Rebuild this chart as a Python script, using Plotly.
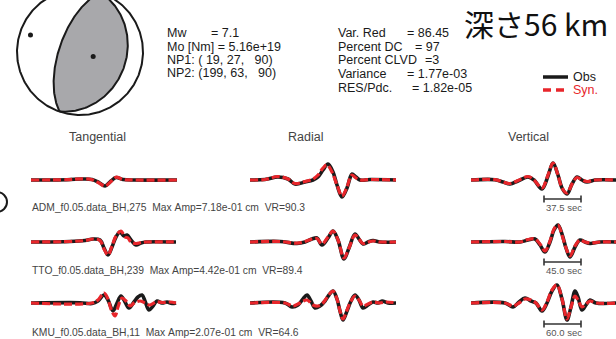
import numpy as np
import plotly.graph_objects as go

W, H = 616, 339

# ---------------- data ----------------
components = ["Tangential", "Radial", "Vertical"]
stations = ["ADM", "TTO", "KMU"]
station_labels = [
    "ADM_f0.05.data_BH,275  Max Amp=7.18e-01 cm  VR=90.3",
    "TTO_f0.05.data_BH,239  Max Amp=4.42e-01 cm  VR=89.4",
    "KMU_f0.05.data_BH,11  Max Amp=2.07e-01 cm  VR=64.6",
]
scale_labels = ["37.5 sec", "45.0 sec", "60.0 sec"]

np1 = (19, 27, 90)      # strike, dip, rake
np2 = (199, 63, 90)
p_axis = (289, 18)      # trend, plunge
t_axis = (109, 72)

mw_label, mw_value = "Mw", "= 7.1"
mt_lines = ["Mo [Nm] = 5.16e+19", "NP1: ( 19, 27,   90)", "NP2: (199, 63,   90)"]
stat_labels = ["Var. Red", "Percent DC", "Percent CLVD", "Variance", "RES/Pdc."]
stat_values = ["= 86.45", "= 97", "=3", "= 1.77e-03", "= 1.82e-05"]
depth_title = "深さ56 km"
legend_names = ["Obs", "Syn."]

# waveforms: (sample, amplitude) pairs, amplitude positive up
ADM_T_obs = [(0,0),(36,0.3),(52,1),(61,0.5),(68,-2.5),(74,-6),(80,-1),(85,2.5),(92,0.5),(104,0),(146,0)]
ADM_T_syn = [(0,0),(36,0.3),(52,1.2),(61,0.3),(68,-3),(74,-6),(80,-1.5),(85,2.8),(92,0.5),(104,0),(146,0)]
ADM_R_obs = [(0,0),(15,0.5),(28,3),(38,1),(45,-4),(55,-2),(63,0),(68,3),(73,10),(78,16),(83,8),(87,-5),(92,-17),(97,-8),(100,2),(102,6),(106,3),(110,0),(120,0.5),(147,0)]
ADM_R_syn = [(0,0),(15,0.5),(28,3.5),(38,1),(45,-3.5),(55,-1.5),(63,1),(68,5),(73,12),(77,15),(82,8),(87,-5),(92,-16),(97,-7),(100,2),(102,5),(106,2),(110,0),(120,0.5),(147,0)]
ADM_Z_obs = [(0,0),(24,0.3),(32,-2),(39,-4),(47,-1),(57,3),(63,0),(71,-9),(77,4),(82,17),(87,5),(91,-8),(96,-14),(101,-4),(106,3),(111,0),(116,-2),(124,0),(134,0.3),(146,0)]
ADM_Z_syn = [(0,0),(24,0.3),(32,-2),(39,-3.5),(47,-0.5),(57,3.5),(63,0),(71,-8),(77,5),(82,17),(87,5),(91,-8),(96,-13),(101,-4),(106,2.5),(111,0),(116,-1.5),(124,0),(146,0)]

TTO_T_obs = [(0,0),(39,0.5),(54,1.5),(62,3),(69,2),(73,-6),(77,-13),(81,-5),(85,5),(89,10),(93,6),(96,7),(100,2),(105,-3),(110,-1),(115,0),(145,0)]
TTO_T_syn = [(0,0),(39,0.5),(54,1.5),(62,3),(69,1.5),(73,-7),(77,-13),(81,-4),(85,6),(90,11),(94,5),(97,4),(100,0),(105,-1.5),(110,-0.5),(115,0),(145,0)]
TTO_R_obs = [(0,0),(30,0.5),(47,-1.5),(55,0),(62,3),(67,4),(72,-3),(78,4),(83,11),(88,2),(94,-17),(99,-6),(105,8),(109,3),(113,-2),(118,0),(123,1.5),(130,0),(147,0)]
TTO_R_syn = [(0,0),(30,0.5),(47,-1.2),(55,0.5),(62,3),(67,3.5),(72,-2),(78,5),(83,11),(88,2),(94,-16),(99,-6),(105,7),(109,3),(113,-1.5),(118,0),(123,1),(130,0),(147,0)]
TTO_Z_obs = [(0,0),(34,0.5),(49,0),(57,2),(64,3),(69,-3),(74,-10),(79,0),(83,12),(87,17),(91,8),(95,-6),(99,-15),(104,-5),(109,2),(114,0),(119,-1.5),(129,0),(146,0)]
TTO_Z_syn = [(0,0),(34,0.5),(49,0),(57,2.5),(64,3),(69,-2),(74,-9),(79,1),(83,13),(87,17),(91,7),(95,-6),(99,-14),(104,-4),(109,2),(114,0),(119,-1),(129,0),(146,0)]

KMU_T_obs = [(0,0),(49,0.3),(61,-0.5),(67,2),(73,8),(77,3),(82,-8),(86,0),(90,7),(94,1),(98,-5),(103,1),(107,6),(111,8),(114,2),(118,-7),(122,-3),(126,2),(131,0),(136,1),(141,-0.5),(145,0)]
KMU_T_syn = [(0,0),(61,0),(67,3),(73,10),(77,4),(80,-6),(84,-13),(87,-4),(91,5),(95,2),(99,-3),(103,0),(109,2),(114,0),(119,-2),(125,1),(132,0.5),(139,1),(145,0)]
KMU_R_obs = [(0,0),(35,0),(42,-4),(48,-2),(53,4),(57,8),(61,2),(65,-5),(70,-3),(75,2),(79,8),(83,12),(87,4),(90,-8),(93,-17),(97,-8),(101,2),(105,8),(109,3),(113,-5),(118,-2),(123,1),(128,0),(132,2),(138,0),(147,0)]
KMU_R_syn = [(0,0),(35,0),(43,-3),(50,0),(57,3),(63,-2),(68,-3),(73,0),(78,7),(83,12),(87,4),(90,-8),(93,-16),(97,-7),(101,2),(105,7),(109,3),(113,-3),(118,-1),(123,1),(130,0),(136,1),(147,0)]
KMU_Z_obs = [(0,0),(34,0),(42,-4),(48,1),(54,5),(60,2),(65,0),(71,-8),(76,0),(81,12),(86,18),(91,4),(96,-17),(100,-4),(104,12),(107,6),(111,-7),(115,-2),(119,3),(125,0),(146,0)]
KMU_Z_syn = [(0,0),(34,0),(42,-3),(48,0),(54,4),(60,3),(65,0),(71,-7),(76,1),(81,13),(86,18),(91,4),(96,-16),(100,-4),(104,7),(107,3),(111,-4),(115,-1),(119,2),(125,0),(146,0)]

waves = {
    ("ADM", 0): (ADM_T_obs, ADM_T_syn), ("ADM", 1): (ADM_R_obs, ADM_R_syn), ("ADM", 2): (ADM_Z_obs, ADM_Z_syn),
    ("TTO", 0): (TTO_T_obs, TTO_T_syn), ("TTO", 1): (TTO_R_obs, TTO_R_syn), ("TTO", 2): (TTO_Z_obs, TTO_Z_syn),
    ("KMU", 0): (KMU_T_obs, KMU_T_syn), ("KMU", 1): (KMU_R_obs, KMU_R_syn), ("KMU", 2): (KMU_Z_obs, KMU_Z_syn),
}

# ---------------- layout constants (pixels) ----------------
col_x0 = [31, 250, 471]
win = 146
row_base = [180, 242, 303]
label_y = [207, 270, 332]
header_y = 137
header_x = [97, 305, 528]
cx, cy, R = 80, 52, 63

BLACK = "#1a1a1a"
RED = "#e8262b"
GREY_TXT = "#444444"
FONT = "Liberation Sans"

fig = go.Figure()

# ---------------- beachball ----------------
def bb_point(trend, plunge):
    trend = np.radians(np.asarray(trend, dtype=float))
    plunge = np.radians(np.asarray(plunge, dtype=float))
    r = R * np.sqrt(2) * np.sin((np.pi / 2 - plunge) / 2)
    return cx + r * np.sin(trend), cy - r * np.cos(trend)

def plane_arc(strike, dip, n=181):
    t = np.linspace(0, np.pi, n)
    phi, dl = np.radians(strike), np.radians(dip)
    s = np.array([np.cos(phi), np.sin(phi), 0.0])
    d = np.array([np.cos(dl) * np.cos(phi + np.pi / 2), np.cos(dl) * np.sin(phi + np.pi / 2), np.sin(dl)])
    v = np.outer(np.cos(t), s) + np.outer(np.sin(t), d)
    plunge = np.degrees(np.arcsin(np.clip(v[:, 2], -1, 1)))
    trend = np.degrees(np.arctan2(v[:, 1], v[:, 0]))
    return bb_point(trend, plunge)

a1x, a1y = plane_arc(np1[0], np1[1])
a2x, a2y = plane_arc(np2[0], np2[1])
fig.add_trace(go.Scatter(x=np.concatenate([a1x, a2x]), y=np.concatenate([a1y, a2y]),
                         fill="toself", fillcolor="#a8a8ab", line=dict(width=0), mode="lines",
                         xaxis="x", yaxis="y", hoverinfo="skip", showlegend=False))
for ax_, ay_ in [(a1x, a1y), (a2x, a2y)]:
    fig.add_trace(go.Scatter(x=ax_, y=ay_, mode="lines", line=dict(color=BLACK, width=2),
                             xaxis="x", yaxis="y", hoverinfo="skip", showlegend=False))
th = np.linspace(0, 360, 361)
ccx, ccy = bb_point(th, np.zeros_like(th))
fig.add_trace(go.Scatter(x=ccx, y=ccy, mode="lines", line=dict(color=BLACK, width=2),
                         xaxis="x", yaxis="y", hoverinfo="skip", showlegend=False))
px_, py_ = bb_point([p_axis[0], t_axis[0]], [p_axis[1], t_axis[1]])
fig.add_trace(go.Scatter(x=px_, y=py_, mode="markers", marker=dict(color=BLACK, size=5),
                         xaxis="x", yaxis="y", hoverinfo="skip", showlegend=False))

shapes = []
# partial arc at the left edge
shapes.append(dict(type="circle", xref="x", yref="y", x0=-13, x1=7, y0=192, y1=212,
                   line=dict(color=BLACK, width=2)))

# ---------------- waveforms ----------------
layout_axes = {}
k = 2
for r, st in enumerate(stations):
    for c in range(3):
        obs, syn = waves[(st, c)]
        x0 = col_x0[c]
        x1 = min(x0 + win, W)
        b = row_base[r]
        layout_axes[f"xaxis{k}"] = dict(domain=[x0 / W, x1 / W], range=[0, x1 - x0], visible=False,
                                         fixedrange=True, anchor=f"y{k}")
        layout_axes[f"yaxis{k}"] = dict(domain=[(H - b - 30) / H, (H - b + 30) / H], range=[-30, 30],
                                         visible=False, fixedrange=True, anchor=f"x{k}")
        fig.add_trace(go.Scatter(x=[p[0] for p in obs], y=[p[1] for p in obs], mode="lines",
                                 line=dict(color=BLACK, width=3.6, shape="spline", smoothing=1.0),
                                 xaxis=f"x{k}", yaxis=f"y{k}", hoverinfo="skip", showlegend=False))
        fig.add_trace(go.Scatter(x=[p[0] for p in syn], y=[p[1] for p in syn], mode="lines",
                                 line=dict(color=RED, width=3.2, dash="8px,3px", shape="spline", smoothing=1.0),
                                 xaxis=f"x{k}", yaxis=f"y{k}", hoverinfo="skip", showlegend=False))
        k += 1

# ---------------- texts ----------------
ann = []
def txt(x, y, s, size, color, anchor="left", family=FONT):
    ann.append(dict(x=x, y=y, xref="x", yref="y", text=s.replace(" ", "\u00a0"), showarrow=False,
                    xanchor=anchor, yanchor="middle", font=dict(size=size, color=color, family=family)))

left_y = [33, 46.5, 60, 73]
txt(165, left_y[0], mw_label, 12.5, BLACK)
txt(209, left_y[0], mw_value, 12.5, BLACK)
for i, s in enumerate(mt_lines):
    txt(165, left_y[i + 1], s, 12.5, BLACK)

stat_y = [33, 46.5, 60, 74, 87.5]
stat_vx = [405, 413, 423, 405, 410]
for i in range(5):
    txt(336, stat_y[i], stat_labels[i], 12.5, BLACK)
    txt(stat_vx[i], stat_y[i], stat_values[i], 12.5, BLACK)

txt(462, 23, depth_title, 30, "#111111", family="Noto Sans CJK JP")

# legend
shapes.append(dict(type="line", xref="x", yref="y", x0=543, x1=568, y0=77, y1=77,
                   line=dict(color=BLACK, width=3.5)))
shapes.append(dict(type="line", xref="x", yref="y", x0=543, x1=564, y0=90, y1=90,
                   line=dict(color=RED, width=3.5, dash="8px,5px")))
txt(571, 77, legend_names[0], 12.5, BLACK)
txt(571, 90, legend_names[1], 12.5, RED)

for c in range(3):
    txt(header_x[c], header_y, components[c], 12.5, GREY_TXT, anchor="center")

for r in range(3):
    txt(30, label_y[r], station_labels[r], 10.3, GREY_TXT)
    # time scale bar under vertical trace
    yb = label_y[r] - 8
    shapes.append(dict(type="line", xref="x", yref="y", x0=544, x1=581, y0=yb, y1=yb,
                       line=dict(color="#333333", width=1.6)))
    for xe in (544, 581):
        shapes.append(dict(type="line", xref="x", yref="y", x0=xe, x1=xe, y0=yb - 3.5, y1=yb + 3.5,
                           line=dict(color="#333333", width=1.6)))
    txt(564, label_y[r], scale_labels[r], 9.5, "#555555", anchor="center")

fig.update_layout(
    width=W, height=H, margin=dict(l=0, r=0, t=0, b=0),
    paper_bgcolor="white", plot_bgcolor="rgba(0,0,0,0)",
    xaxis=dict(domain=[0, 1], range=[0, W], visible=False, fixedrange=True),
    yaxis=dict(domain=[0, 1], range=[H, 0], visible=False, fixedrange=True),
    shapes=shapes, annotations=ann, showlegend=False,
    **layout_axes,
)

fig.write_html("out.html", config={"displayModeBar": False})
